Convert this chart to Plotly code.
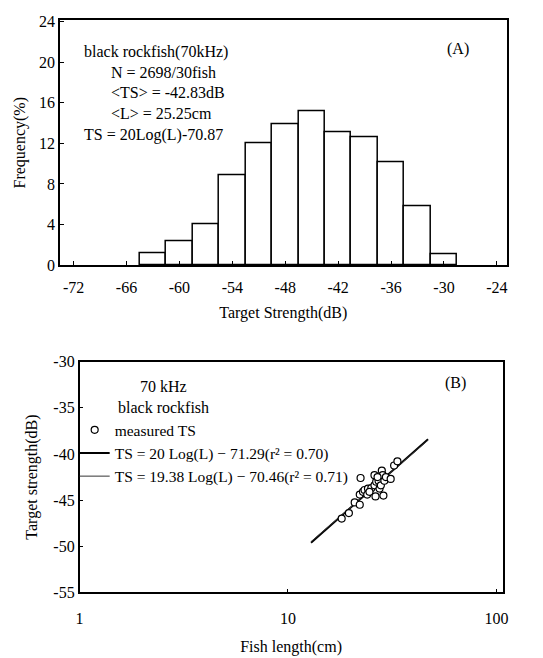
import plotly.graph_objects as go

W, H = 543, 658

# ---------------- data ----------------
# Panel A: TS histogram (3 dB bins, centers)
ts_bin_centers = [-63, -60, -57, -54, -51, -48, -45, -42, -39, -36, -33, -30]
ts_frequency = [1.2, 2.3, 4.0, 8.8, 12.0, 13.9, 15.1, 13.1, 12.6, 10.1, 5.8, 1.1]
hist_x_ticks = [-72, -66, -60, -54, -48, -42, -36, -30, -24]
hist_y_ticks = [0, 4, 8, 12, 16, 20, 24]

# Panel B: measured TS vs fish length
fish_length_cm = [18.1, 19.6, 20.9, 22.1, 22.3, 22.1, 22.9, 23.3, 24.2, 24.0,
                  25.1, 26.0, 26.3, 26.0, 26.5, 27.2, 27.5, 27.9, 28.2, 28.5,
                  28.7, 29.0, 29.5, 31.1, 32.3, 33.5, 24.6, 26.9]
measured_ts_db = [-47.0, -46.4, -45.25, -45.5, -42.6, -44.4, -44.1, -43.9, -43.75, -44.4,
                  -43.7, -43.4, -44.6, -42.3, -43.0, -42.9, -43.75, -43.4, -41.8, -42.3,
                  -44.5, -42.9, -42.5, -42.7, -41.25, -40.8, -44.1, -42.5]
fit1_length = [12.9, 47.0]
fit1_ts = [-49.6, -38.4]
fit2_length = [12.9, 47.0]
fit2_ts = [-49.5, -38.5]
scatter_x_ticks = [1, 10, 100]
scatter_y_ticks = [-55, -50, -45, -40, -35, -30]

FONT = "Liberation Serif, Times New Roman, serif"
FS = 16


def px(x):
    return x / W


def py(y):
    return 1 - y / H


fig = go.Figure()

# Panel A bars
fig.add_trace(go.Bar(
    x=ts_bin_centers, y=ts_frequency, width=3,
    marker=dict(color="white", line=dict(color="black", width=1.5)),
    xaxis="x", yaxis="y", showlegend=False,
))

# Panel B fit lines
fig.add_trace(go.Scatter(
    x=fit1_length, y=fit1_ts, mode="lines",
    line=dict(color="black", width=2),
    name="TS = 20 Log(L) − 71.29(r² = 0.70)",
    xaxis="x2", yaxis="y2", legendrank=2,
))
fig.add_trace(go.Scatter(
    x=fit2_length, y=fit2_ts, mode="lines",
    line=dict(color="#333333", width=1),
    name="TS = 19.38 Log(L) − 70.46(r² = 0.71)",
    xaxis="x2", yaxis="y2", legendrank=3,
))
# Panel B measured points
fig.add_trace(go.Scatter(
    x=fish_length_cm, y=measured_ts_db, mode="markers",
    marker=dict(symbol="circle", size=7, color="white",
                line=dict(color="black", width=1.2)),
    name="measured TS",
    xaxis="x2", yaxis="y2", legendrank=1,
))

axis_common = dict(
    showgrid=False, zeroline=False, showline=True, linecolor="black",
    linewidth=1.5, mirror=True, ticks="inside", ticklen=4, tickcolor="black",
    tickfont=dict(family=FONT, size=FS, color="black"),
)

fig.update_layout(
    width=W, height=H,
    margin=dict(l=0, r=0, t=0, b=0),
    paper_bgcolor="white", plot_bgcolor="white",
    font=dict(family=FONT, size=FS, color="black"),
    bargap=0,
    xaxis=dict(
        axis_common, domain=[px(57), px(512)], anchor="y",
        range=[-73.55, -22.9], tickvals=hist_x_ticks,
        ticktext=[str(v) for v in hist_x_ticks],
        ticklabelstandoff=7,
        title=dict(text="Target Strength(dB)", font=dict(family=FONT, size=FS), standoff=12),
    ),
    yaxis=dict(
        axis_common, domain=[py(264), py(12.7)], anchor="x",
        range=[0, 24.1], tickvals=hist_y_ticks,
        ticktext=[str(v) for v in hist_y_ticks],
        title=dict(text="Frequency(%)", font=dict(family=FONT, size=FS), standoff=9),
    ),
    xaxis2=dict(
        axis_common, domain=[px(77), px(508)], anchor="y2",
        type="log", range=[0, 2.03], tickvals=scatter_x_ticks,
        ticktext=[str(v) for v in scatter_x_ticks],
        ticklabelstandoff=11,
        title=dict(text="Fish length(cm)", font=dict(family=FONT, size=FS), standoff=14),
    ),
    yaxis2=dict(
        axis_common, domain=[py(600), py(363)], anchor="x2",
        range=[-55, -30], tickvals=scatter_y_ticks,
        ticktext=[str(v) for v in scatter_y_ticks],
        title=dict(text="Target strength(dB)", font=dict(family=FONT, size=FS), standoff=12),
    ),
    legend=dict(
        x=px(72), y=py(416), xanchor="left", yanchor="top",
        bgcolor="rgba(0,0,0,0)", font=dict(family=FONT, size=15.5, color="black"),
        itemwidth=30, tracegroupgap=0,
    ),
    showlegend=True,
)

annotations = [
    dict(text="black rockfish(70kHz)", x=px(79), y=py(45), xanchor="left"),
    dict(text="N = 2698/30fish", x=px(107), y=py(66), xanchor="left"),
    dict(text="&lt;TS&gt; = -42.83dB", x=px(107), y=py(87), xanchor="left"),
    dict(text="&lt;L&gt; = 25.25cm", x=px(107), y=py(108), xanchor="left"),
    dict(text="TS = 20Log(L)-70.87", x=px(79), y=py(130), xanchor="left"),
    dict(text="(A)", x=px(463), y=py(42), xanchor="center"),
    dict(text="70 kHz", x=px(163), y=py(389), xanchor="center"),
    dict(text="black rockfish", x=px(163), y=py(410), xanchor="center"),
    dict(text="(B)", x=px(460), y=py(385), xanchor="center"),
]
for a in annotations:
    fig.add_annotation(xref="paper", yref="paper", yanchor="middle",
                       showarrow=False, font=dict(family=FONT, size=FS, color="black"), **a)

fig.write_html("out.html")
